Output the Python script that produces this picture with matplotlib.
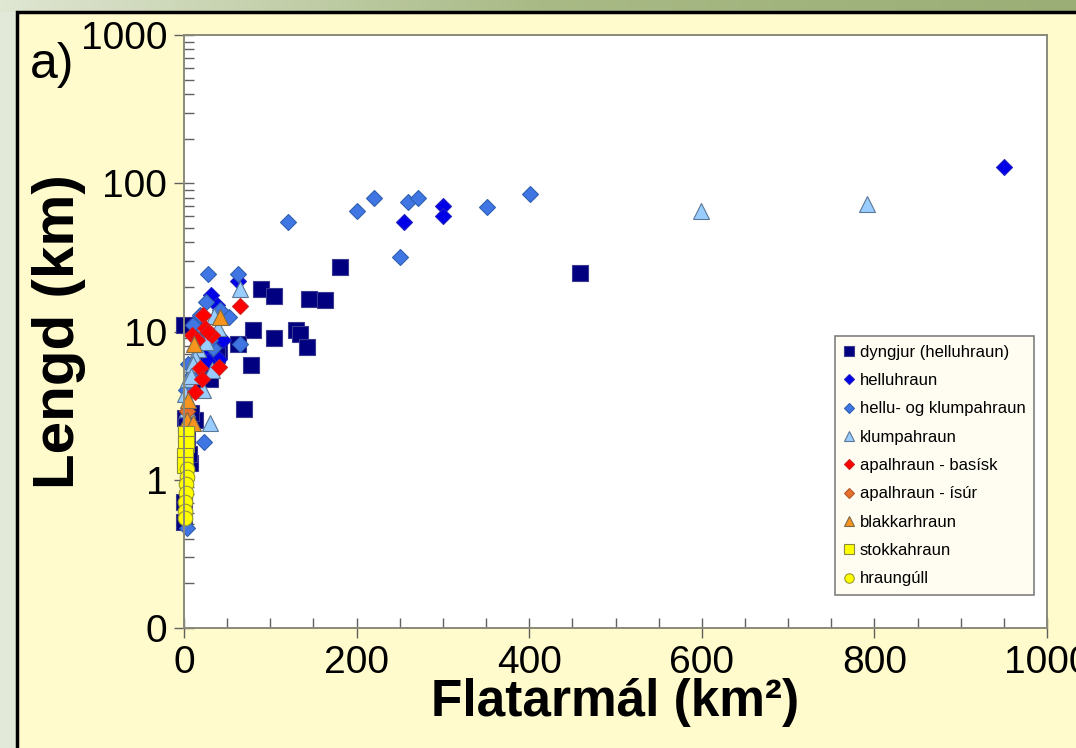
import numpy as np
import matplotlib
matplotlib.use("Agg")
import matplotlib.pyplot as plt
from matplotlib.patches import Rectangle

plt.rcParams['font.family'] = ['Liberation Sans', 'DejaVu Sans']

# flatarmal (km2), lengd (km) for each lava type
dyngjur_x = [459, 181, 89, 104, 145, 163, 80, 130, 134, 142, 104, 63, 78, 69, 0.5, 30, 22, 32, 35, 40,
             38, 1, 12.7, 2, 7, 0.5, 0.5, 3, 4, 6, 8, 28, 15, 10]
dyngjur_y = [24.7, 27.4, 19.3, 17.4, 16.6, 16.3, 10.3, 10.3, 9.6, 7.9, 9.1, 8.2, 5.9, 3.0, 11.0, 4.8, 7.0, 9.0, 6.5, 7.5,
             6.9, 2.6, 2.54, 2.3, 1.3, 0.71, 0.52, 1.6, 1.9, 1.5, 2.8, 6.0, 5.2, 4.2]

hellu_x = [950, 300, 300, 255, 62, 31, 38, 45, 25, 15, 8, 3, 40, 28, 20, 12]
hellu_y = [128, 70, 60, 55, 21.8, 17.5, 15.2, 8.7, 7.0, 5.5, 4.0, 2.7, 6.5, 6.3, 9.0, 11.5]

hk_x = [120, 201, 220, 260, 271, 351, 401, 250, 28, 62, 25.5, 52.5, 65, 34, 23, 3, 10, 15, 5, 2, 18, 42, 8, 30]
hk_y = [55, 65, 80, 75, 80, 69, 85, 32, 24.4, 24.6, 15.8, 12.5, 8.2, 7.7, 1.8, 0.47, 11, 9, 6, 4, 13, 14, 5, 8.8]

klump_x = [599, 791, 65, 30.5, 16, 12.7, 5, 1, 22, 32, 39.5, 10, 25, 3, 35, 8]
klump_y = [64.7, 72, 19.4, 2.4, 7.6, 6.6, 4.8, 3.8, 4.0, 5.5, 10.6, 6.0, 8.5, 3.0, 12.7, 5.0]

apal_bas_x = [65, 22, 9, 24, 32, 18.5, 40, 20.5, 12.7, 28, 15]
apal_bas_y = [14.9, 12.9, 9.5, 10.5, 9.5, 5.7, 5.8, 4.76, 3.9, 10.0, 8.7]

apal_isur_x = [3, 6]
apal_isur_y = [2.9, 2.2]

blakk_x = [42, 11.6, 5, 3, 11]
blakk_y = [12.6, 8.2, 3.45, 2.53, 2.4]

stokk_x = [2, 2, 1.5, 1]
stokk_y = [2.05, 1.75, 1.45, 1.25]

gull_x = [3.5, 3, 2.5, 2, 1.5, 1, 1]
gull_y = [1.19, 1.05, 0.94, 0.82, 0.71, 0.62, 0.55]

series = [
    ("dyngjur (helluhraun)", dyngjur_x, dyngjur_y, 's', 11.5, '#000080', '#3a3a90'),
    ("helluhraun", hellu_x, hellu_y, 'D', 8.5, '#0000e8', '#2020c0'),
    ("hellu- og klumpahraun", hk_x, hk_y, 'D', 8.5, '#3f76e4', '#3060b0'),
    ("klumpahraun", klump_x, klump_y, '^', 12, '#99ccff', '#5a7896'),
    ("apalhraun - basísk", apal_bas_x, apal_bas_y, 'D', 8.5, '#ff0000', '#d02020'),
    ("apalhraun - ísúr", apal_isur_x, apal_isur_y, 'D', 8.5, '#e8702a', '#b05a2a'),
    ("blakkarhraun", blakk_x, blakk_y, '^', 12, '#f7941d', '#7a6a4a'),
    ("stokkahraun", stokk_x, stokk_y, 's', 11.5, '#ffff00', '#8a8a40'),
    ("hraungúll", gull_x, gull_y, 'o', 10.5, '#ffff00', '#9a9a30'),
]

fig = plt.figure(figsize=(10.76, 7.48), dpi=100)
fig.patch.set_facecolor('#e3e9d9')

# green band on top, lighter to the left
band = fig.add_axes([0, 1 - 12 / 748, 1, 12 / 748], zorder=-10)
grad = np.linspace(0, 1, 256).reshape(1, -1)
band.imshow(grad, aspect='auto', cmap=matplotlib.colors.LinearSegmentedColormap.from_list(
    'g', ['#dfe6d2', '#a9ba86', '#9bae76']), extent=[0, 1, 0, 1])
band.axis('off')

fig.patches.append(Rectangle((17 / 1076, -0.01), 1.1, 1 - 12 / 748 + 0.01,
                             transform=fig.transFigure, facecolor='#fffbcc',
                             edgecolor='black', linewidth=2.5, zorder=-5))

ax = fig.add_axes([184 / 1076, 1 - 628 / 748, 863 / 1076, 593 / 748])
ax.set_facecolor('white')

for name, xs, ys, m, ms, fc, ec in series:
    ax.plot(xs, ys, linestyle='none', marker=m, markersize=ms, markerfacecolor=fc,
            markeredgecolor=ec, markeredgewidth=0.8, label=name, clip_on=False)

ax.set_yscale('log')
ax.set_xlim(0, 1000)
ax.set_ylim(0.1, 1000)

ax.set_yticks([0.1, 1, 10, 100, 1000])
ax.set_yticklabels(['0', '1', '10', '100', '1000'])
ax.set_xticks(np.arange(0, 1001, 200))
ax.set_xticks(np.arange(0, 1001, 50), minor=True)
ax.yaxis.set_minor_locator(matplotlib.ticker.LogLocator(base=10, subs=np.arange(2, 10)))
ax.yaxis.set_minor_formatter(matplotlib.ticker.NullFormatter())

ax.tick_params(axis='both', which='major', direction='inout', length=14, width=1,
               color='#606060', labelsize=28, pad=5)
ax.tick_params(axis='both', which='minor', direction='in', length=7, width=1, color='#606060')

for s in ax.spines.values():
    s.set_color('#8a8a7a')
    s.set_linewidth(1.4)

ax.set_xlabel('Flatarmál (km²)', fontsize=37, fontweight='bold', labelpad=-2)
ax.set_ylabel('Lengd (km)', fontsize=42, fontweight='bold', labelpad=-4)

leg = ax.legend(loc='lower left', bbox_to_anchor=(0.754, 0.056), fontsize=12,
                markerscale=0.65, handlelength=0.7, handletextpad=0.3,
                labelspacing=0.8, borderpad=0.5, borderaxespad=0, fancybox=False,
                framealpha=1, edgecolor='#808080', facecolor='#fffdf2')
leg.get_frame().set_linewidth(1.2)

fig.text(30 / 1076, 1 - 65 / 748, 'a)', fontsize=36, ha='left', va='center')

fig.savefig('out.png', dpi=100, facecolor=fig.get_facecolor())
